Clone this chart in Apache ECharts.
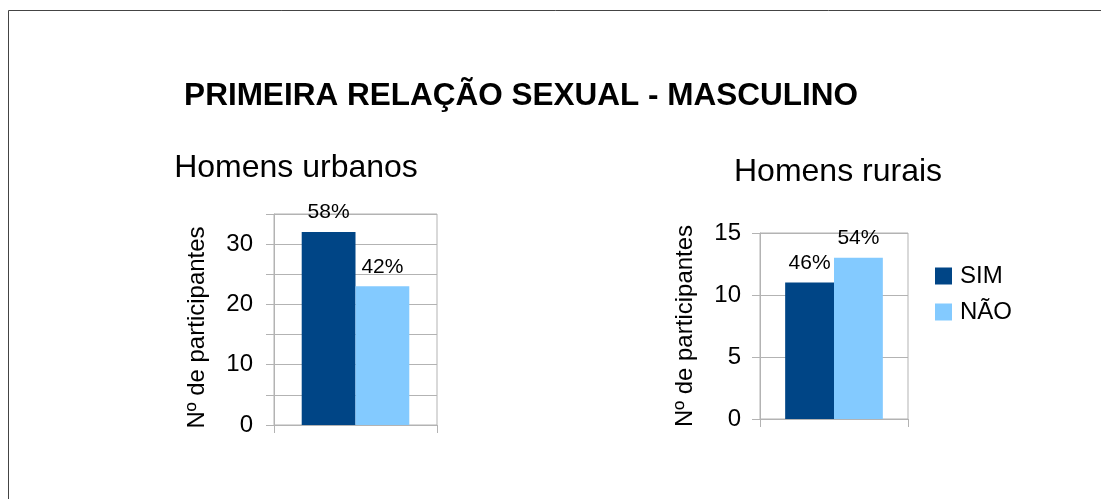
<!DOCTYPE html>
<html>
<head>
<meta charset="utf-8">
<script src="https://cdn.jsdelivr.net/npm/echarts@6/dist/echarts.min.js"></script>
<style>
  html, body { margin: 0; padding: 0; background: #fff; }
  #chart { width: 1101px; height: 499px; }
</style>
</head>
<body>
<div id="chart"></div>
<script>
// data
const groups = ['SIM', 'NÃO'];
const urbanValues = [32, 23];
const urbanLabels = ['58%', '42%'];
const ruralValues = [11, 13];
const ruralLabels = ['46%', '54%'];
const colors = ['#004586', '#83caff'];

const font = 'Liberation Sans, Arial, sans-serif';
const gridGrey = '#b3b3b3';

const chart = echarts.init(document.getElementById('chart'));

function yAxis(gridIndex, max, labelStep, namePadding, margin, nameGap) {
  return {
    type: 'value',
    gridIndex: gridIndex,
    min: 0,
    max: max,
    interval: 5,
    name: 'Nº de participantes',
    nameLocation: 'middle',
    nameRotate: 90,
    nameGap: nameGap,
    nameTextStyle: { fontFamily: font, fontSize: 24, color: '#000', padding: namePadding },
    axisLine: { show: true, lineStyle: { color: gridGrey } },
    axisTick: { show: true, length: 8, lineStyle: { color: gridGrey } },
    axisLabel: {
      fontFamily: font, fontSize: 24, color: '#000', margin: margin,
      // labels only every 10 (left) / 5 (right), gridlines every 5
      formatter: v => (v % labelStep === 0 ? String(v) : '')
    },
    splitLine: { show: true, lineStyle: { color: gridGrey } }
  };
}

function xAxis(gridIndex) {
  return {
    type: 'category',
    gridIndex: gridIndex,
    data: [''],
    axisLine: { show: true, lineStyle: { color: gridGrey } },
    axisTick: { show: true, length: 8, lineStyle: { color: gridGrey } },
    axisLabel: { show: false },
    splitLine: { show: false }
  };
}

function bar(name, value, label, color, axisIndex) {
  return {
    name: name,
    type: 'bar',
    xAxisIndex: axisIndex,
    yAxisIndex: axisIndex,
    data: [value],
    barGap: 0,
    barCategoryGap: '34%',
    itemStyle: { color: color },
    label: {
      show: true,
      position: 'top',
      distance: 9,
      formatter: label,
      fontFamily: font,
      fontSize: 21,
      color: '#000'
    }
  };
}

const option = {
  animation: false,
  backgroundColor: '#fff',
  title: [
    {
      text: 'PRIMEIRA RELAÇÃO SEXUAL - MASCULINO',
      left: 516, top: 75, textAlign: 'center',
      textStyle: { fontFamily: font, fontSize: 31.5, fontWeight: 'bold', color: '#000' }
    },
    {
      text: 'Homens urbanos',
      left: 291, top: 147, textAlign: 'center',
      textStyle: { fontFamily: font, fontSize: 32, fontWeight: 'normal', color: '#000' }
    },
    {
      text: 'Homens rurais',
      left: 833, top: 151, textAlign: 'center',
      textStyle: { fontFamily: font, fontSize: 32, fontWeight: 'normal', color: '#000' }
    }
  ],
  legend: {
    data: groups,
    orient: 'vertical',
    left: 930,
    top: 259,
    icon: 'rect',
    itemWidth: 17,
    itemHeight: 17,
    itemGap: 12,
    textStyle: { fontFamily: font, fontSize: 24, color: '#000', padding: [0, 0, 0, 3] }
  },
  graphic: [
    {
      type: 'rect',
      shape: { x: 8.5, y: 10.5, width: 1200, height: 600 },
      style: { fill: null, stroke: '#444', lineWidth: 1 },
      silent: true
    }
  ],
  grid: [
    { left: 274, top: 214, width: 163, height: 211, show: true, borderColor: gridGrey, borderWidth: 1 },
    { left: 760, top: 233, width: 148, height: 186, show: true, borderColor: gridGrey, borderWidth: 1 }
  ],
  xAxis: [xAxis(0), xAxis(1)],
  yAxis: [
    yAxis(0, 35, 10, [0, 16, 0, 0], 21, 65),
    yAxis(1, 15, 5, 0, 19, 63)
  ],
  series: [
    bar(groups[0], urbanValues[0], urbanLabels[0], colors[0], 0),
    bar(groups[1], urbanValues[1], urbanLabels[1], colors[1], 0),
    bar(groups[0], ruralValues[0], ruralLabels[0], colors[0], 1),
    bar(groups[1], ruralValues[1], ruralLabels[1], colors[1], 1)
  ]
};

chart.setOption(option);
</script>
</body>
</html>
